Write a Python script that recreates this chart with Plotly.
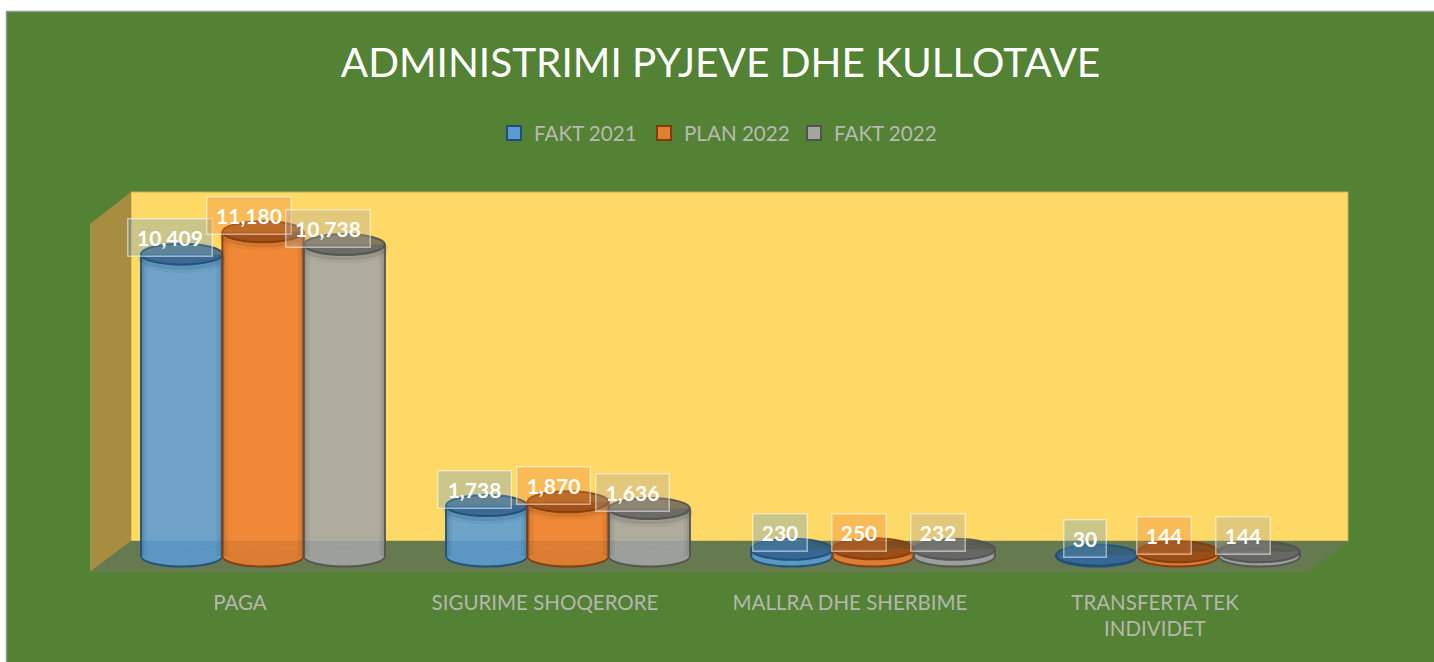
import plotly.graph_objects as go

categories = ["PAGA", "SIGURIME SHOQERORE", "MALLRA DHE SHERBIME", "TRANSFERTA TEK<br>INDIVIDET"]
series_names = ["FAKT 2021", "PLAN 2022", "FAKT 2022"]
fakt_2021 = [10409, 1738, 230, 30]
plan_2022 = [11180, 1870, 250, 144]
fakt_2022 = [10738, 1636, 232, 144]
series_values = [fakt_2021, plan_2022, fakt_2022]

W, H = 1434, 662
FONT = "Lato"
rgb = [(91, 155, 213), (237, 125, 49), (165, 165, 165)]
dark_rgb = [(31, 78, 121), (132, 60, 12), (82, 82, 82)]
dark = ["#1f4e79", "#843c0c", "#525252"]
cap_fill = ["rgba(40,85,130,0.72)", "rgba(132,60,12,0.72)", "rgba(82,82,82,0.72)"]
legend_fill = ["#5b9bd5", "#e07f2f", "#a3a69c"]
label_dx = [-12, -14.5, -16.5]
label_dy = 16.5

# plot rectangle in pixels, and the scale of both axes
PL, PR, PT, PB = 90, 1348, 192, 572
X_UNIT, Y_UNIT = 305.0, 0.029     # px per category, px per value unit
ZERO_X, ZERO_Y = 263.0, 556.0     # px of first group centre, px of value 0
xrange_ = [(PL - ZERO_X) / X_UNIT, (PR - ZERO_X) / X_UNIT]
yrange_ = [(ZERO_Y - PB) / Y_UNIT, (ZERO_Y - PT) / Y_UNIT]
BAR_W = 0.8 / 3
RY = 10.5 / Y_UNIT
RX = BAR_W / 2
K = 0.5523


def fx(px):
    return px / W


def fy(py):
    return 1 - py / H


def poly(points):
    return "M " + " L ".join(f"{fx(a):.5f},{fy(b):.5f}" for a, b in points) + " Z"


shapes = [
    # chart panel
    dict(type="rect", xref="paper", yref="paper", x0=fx(6.5), x1=fx(1436), y0=fy(664), y1=fy(11.5),
         fillcolor="#548235", line=dict(color="#8f9a8a", width=1.5), layer="below"),
    # back wall
    dict(type="rect", xref="paper", yref="paper", x0=fx(131), x1=fx(1348), y0=fy(541), y1=fy(192),
         fillcolor="#ffd966", line=dict(color="#c9ad55", width=1), layer="below"),
    # side wall
    dict(type="path", xref="paper", yref="paper", path=poly([(90, 224), (131, 192), (131, 541), (90, 572)]),
         fillcolor="#a68d3f", line=dict(width=0), layer="below"),
    # floor
    dict(type="path", xref="paper", yref="paper", path=poly([(131, 541), (1348, 541), (1308, 572), (90, 572)]),
         fillcolor="#667a4f", line=dict(width=0), layer="below"),
]

annotations = []
fig = go.Figure()

for j, (name, values) in enumerate(zip(series_names, series_values)):
    r, g, b = rgb[j]
    dr, dg, db = dark_rgb[j]
    fig.add_trace(go.Bar(
        x=list(range(len(categories))), y=values, name=name, showlegend=False,
        marker=dict(color=f"rgba({r},{g},{b},0.88)", line=dict(width=0)),
    ))
    fig.add_trace(go.Scatter(
        x=[None], y=[None], mode="markers", name=name, showlegend=True,
        marker=dict(symbol="square", size=14, color=legend_fill[j], line=dict(color=dark[j], width=2)),
    ))
    for i, v in enumerate(values):
        cx = i + (j - 1) * BAR_W
        x0, x1 = cx - RX, cx + RX
        kx, ky = K * RX, K * RY
        # front half of the base ellipse
        front = (f"M {x0},0 C {x0},{-ky} {cx - kx},{-RY} {cx},{-RY} "
                 f"C {cx + kx},{-RY} {x1},{-ky} {x1},0")
        shapes.append(dict(type="path", xref="x", yref="y", path=front + " Z",
                           fillcolor=f"rgba({r},{g},{b},0.88)", line=dict(width=0), layer="above"))
        # back half of the base ellipse, seen through the body
        back = (f"M {x0},0 C {x0},{ky} {cx - kx},{RY} {cx},{RY} "
                f"C {cx + kx},{RY} {x1},{ky} {x1},0")
        shapes.append(dict(type="path", xref="x", yref="y", path=back,
                           line=dict(color=f"rgba({r},{g},{b},0.7)", width=1), layer="above"))
        # soft inner shading along both sides of the body
        for w_px, alpha in ((3, 0.14), (6, 0.10)):
            w = w_px / X_UNIT
            for a0, a1 in ((x0, x0 + w), (x1 - w, x1)):
                shapes.append(dict(type="rect", xref="x", yref="y", x0=a0, x1=a1, y0=0, y1=v,
                                   fillcolor=f"rgba({dr},{dg},{db},{alpha})", line=dict(width=0), layer="above"))
        # soft inner shading under the cap, on bodies that are tall enough
        if v * Y_UNIT > 20:
            for off_px, lw, alpha in ((2, 6, 0.16), (5, 6, 0.08)):
                t = v - off_px / Y_UNIT
                arc = (f"M {x0},{t} C {x0},{t - ky} {cx - kx},{t - RY} {cx},{t - RY} "
                       f"C {cx + kx},{t - RY} {x1},{t - ky} {x1},{t}")
                shapes.append(dict(type="path", xref="x", yref="y", path=arc,
                                   line=dict(color=f"rgba({dr},{dg},{db},{alpha})", width=lw), layer="above"))
        # outline of the body
        outline = f"M {x0},{v} L {x0},0 " + front[len(f"M {x0},0 "):] + f" L {x1},{v}"
        shapes.append(dict(type="path", xref="x", yref="y", path=outline,
                           line=dict(color=f"rgba({dr},{dg},{db},0.9)", width=2), layer="above"))
        # top cap
        shapes.append(dict(type="circle", xref="x", yref="y", x0=x0, x1=x1, y0=v - RY, y1=v + RY,
                           fillcolor=cap_fill[j], line=dict(color=f"rgba({dr},{dg},{db},0.9)", width=2), layer="above"))
        label = f"{v:,}"
        annotations.append(dict(
            x=cx, y=v, xref="x", yref="y", text=f"<b>{label}</b>", showarrow=False,
            xshift=label_dx[j], yshift=label_dy, xanchor="center", yanchor="middle",
            width=83 if len(label) == 6 else 72 if len(label) == 5 else 53 if len(label) == 3 else 41,
            height=36, align="center", valign="middle",
            font=dict(family=FONT, size=21, color="white"),
            bgcolor=f"rgba({r},{g},{b},0.32)", bordercolor="rgba(255,255,255,0.5)", borderwidth=1.5, borderpad=0,
        ))

LABEL_SHIFT = 23 / X_UNIT
fig.update_layout(
    width=W, height=H, margin=dict(l=0, r=0, t=0, b=0, pad=0),
    paper_bgcolor="white", plot_bgcolor="rgba(0,0,0,0)",
    barmode="group", bargap=0.2, bargroupgap=0,
    font=dict(family=FONT),
    title=dict(text="ADMINISTRIMI PYJEVE DHE KULLOTAVE", x=fx(720.5), xanchor="center",
               y=fy(63), yanchor="middle", font=dict(family=FONT, size=40.5, color="white")),
    legend=dict(orientation="h", x=fx(494), xanchor="left", y=fy(133), yanchor="middle",
                entrywidth=105, entrywidthmode="pixels", bgcolor="rgba(0,0,0,0)",
                font=dict(family=FONT, size=20.6, color="#b8bab2")),
    xaxis=dict(domain=[fx(PL), fx(PR)], range=xrange_, showgrid=False, zeroline=False, showline=False,
               tickmode="array", tickvals=[i - LABEL_SHIFT for i in range(len(categories))], ticktext=categories,
               ticks="", ticklabelstandoff=16, tickangle=0,
               tickfont=dict(family=FONT, size=20.5, color="#b5b7ae")),
    yaxis=dict(domain=[fy(PB), fy(PT)], range=yrange_, visible=False),
    shapes=shapes, annotations=annotations,
    hovermode=False,
)

fig.write_html("out.html", config={"displayModeBar": False},
               post_script="document.body.style.margin='0';document.body.style.overflow='hidden';")
